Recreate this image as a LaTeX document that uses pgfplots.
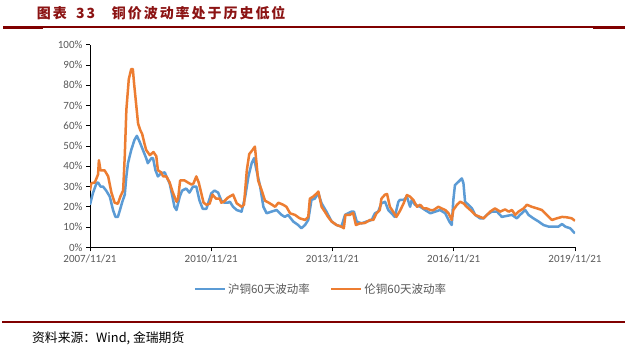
\documentclass[border=0pt]{standalone}
\usepackage{pgfplots}
\pgfplotsset{compat=1.18}
\usepackage{pgfplotstable}
\usepackage{fontspec}
\setmainfont{Carlito}
\newfontfamily\cjk{Noto Sans CJK SC}
\newfontfamily\cjktitle{Noto Sans CJK SC}[LetterSpace=14]
\definecolor{sblue}{RGB}{91,155,213}
\definecolor{sorange}{RGB}{237,125,49}
\definecolor{dred}{RGB}{128,0,0}
\definecolor{tred}{RGB}{140,20,20}
\definecolor{tgray}{RGB}{89,89,89}

\pgfplotstableread{
t v
0.00 21
0.07 26.6
0.16 31.6
0.20 32
0.26 30
0.32 30
0.40 28
0.49 25
0.57 18.4
0.63 15
0.69 15
0.75 19
0.80 22.5
0.86 26
0.90 35
0.94 41.5
1.02 48
1.10 53
1.16 55
1.23 52
1.31 48
1.39 44
1.43 41.5
1.52 44
1.56 44
1.62 38
1.68 35
1.76 36.5
1.85 37
1.89 35
1.97 31.6
2.04 25
2.09 20
2.14 18.4
2.22 25
2.28 28
2.38 29
2.46 27
2.55 30
2.63 30
2.71 23
2.79 19
2.88 19
2.96 24
3.00 26.6
3.08 28
3.17 27
3.25 23
3.33 22
3.41 22
3.46 22.5
3.54 20
3.63 18.4
3.75 17.6
3.84 25
3.92 35
4.00 41.5
4.06 44
4.12 38
4.21 30
4.29 20
4.37 16.8
4.49 17.6
4.62 18.4
4.74 16
4.82 15
4.90 16
5.03 12.7
5.15 11
5.23 9.4
5.32 11
5.40 13.5
5.48 23.4
5.56 24
5.65 26.6
5.73 21.7
5.85 17.6
5.98 12.7
6.10 11
6.22 10.2
6.31 16
6.47 17.6
6.53 17.6
6.60 12.7
6.72 11.8
6.84 12.7
6.97 13.5
7.05 16.8
7.13 17.6
7.21 21.7
7.30 22.5
7.38 18.4
7.46 16.8
7.54 15
7.63 22.5
7.67 23.4
7.76 23.4
7.84 25
7.92 20
7.96 23.4
8.04 21
8.17 20
8.29 18.4
8.42 16.8
8.54 17.6
8.66 18.4
8.79 16.8
8.89 12.7
8.95 11
8.99 23.4
9.03 30.7
9.12 32.4
9.20 34
9.24 31.6
9.28 22.5
9.36 21
9.45 19.2
9.53 16
9.65 14.3
9.74 14.3
9.82 16
9.94 17.6
10.07 17.6
10.19 15
10.31 15.5
10.44 16
10.56 14.3
10.64 16
10.77 18.4
10.85 16
10.97 14.3
11.10 12.7
11.22 11
11.35 10.2
11.47 10.2
11.59 10.2
11.68 11.5
11.76 10.2
11.88 9.4
11.96 7.7
12.00 6.9
}\hutong

\pgfplotstableread{
t v
0.00 28
0.03 31.6
0.12 32
0.20 36
0.22 43
0.26 38
0.36 38
0.45 35
0.53 27
0.61 22
0.69 21.5
0.75 25
0.82 28
0.86 45
0.90 68
0.96 83
1.02 88
1.06 88
1.09 81
1.15 69
1.19 61
1.24 58
1.29 56
1.35 51
1.39 48
1.48 45.5
1.57 47
1.64 45
1.68 38
1.76 37
1.81 35
1.89 35
1.97 32
2.05 27
2.14 22.5
2.18 24
2.23 33
2.34 33
2.42 32
2.51 31
2.56 31.5
2.63 35
2.69 32
2.75 27
2.81 22
2.88 21
2.96 21.5
3.03 26
3.12 24
3.21 24
3.25 22
3.31 22.5
3.41 24.5
3.54 26
3.63 21.7
3.75 20
3.81 21
3.88 38
3.94 46
4.02 48
4.08 49.7
4.12 41.5
4.16 33
4.25 28
4.33 23
4.45 21.7
4.58 20
4.66 22
4.78 21
4.86 20
4.95 16.8
5.07 16
5.19 14.3
5.32 13.5
5.40 15
5.44 24
5.52 25
5.61 26.6
5.65 27.5
5.73 20
5.81 17.6
5.89 15
5.98 12.7
6.10 11
6.22 10.2
6.28 9.4
6.32 16
6.43 16
6.51 17
6.58 11
6.68 11.8
6.80 12
6.93 13.5
7.01 13.5
7.09 16.8
7.17 18.4
7.21 24
7.30 26
7.35 26.3
7.42 20
7.50 17.6
7.58 15
7.67 18
7.76 21.7
7.84 25.8
7.92 25
8.00 23.4
8.09 20
8.17 21
8.25 19.2
8.33 19.2
8.42 18.4
8.50 18.4
8.62 20
8.70 19.2
8.79 18.4
8.87 16.8
8.95 13.5
8.99 18.4
9.08 21
9.16 22.5
9.24 21.7
9.32 20
9.41 18.4
9.53 16
9.65 15
9.74 14.3
9.82 16
9.90 17.6
10.02 19.2
10.15 17.6
10.27 18.7
10.36 17.6
10.44 18.4
10.52 16
10.60 17.6
10.73 19.2
10.81 21
10.93 20
11.06 19.2
11.18 18.4
11.30 16
11.43 13.5
11.55 14.3
11.68 15
11.80 14.8
11.92 14.3
12.00 13.1
}\luntong

\begin{document}
\begin{tikzpicture}[x=1pt,y=1pt]
\path[use as bounding box, fill=white] (0,0) rectangle (625,351);
% title
\node[anchor=west, inner sep=0, text=tred] at (36.7,337.5) {\cjktitle\bfseries\fontsize{14}{14}\selectfont 图表};
\node[anchor=west, inner sep=0, text=tred] at (76,337.5) {\cjktitle\bfseries\fontsize{14}{14}\selectfont 33};
\node[anchor=west, inner sep=0, text=tred] at (111.7,337.5) {\cjktitle\bfseries\fontsize{14}{14}\selectfont 铜价波动率处于历史低位};
\fill[dred] (3,322.7) rectangle (625,325);
\fill[dred] (3,322) rectangle (43,325);
\fill[dred] (593,322) rectangle (625,325);
% footer
\fill[dred] (2,27.7) rectangle (625,29.5);
\node[anchor=west, inner sep=0] at (32,13) {\cjk\fontsize{12.8}{12.8}\selectfont 资料来源：Wind, 金瑞期货};

\begin{axis}[
  at={(90pt,103.7pt)}, anchor=south west,
  scale only axis, width=485pt, height=202.6pt,
  xmin=0, xmax=12, ymin=0, ymax=100,
  axis lines*=left,
  axis line style={black, line width=0.8pt},
  tick style={black, line width=0.8pt},
  tick align=outside, major tick length=4pt,
  xtick={0,3,6,9,12},
  xticklabels={2007/11/21,2010/11/21,2013/11/21,2016/11/21,2019/11/21},
  ytick={0,10,...,100},
  yticklabel={\pgfmathprintnumber{\tick}\%},
  /pgf/number format/assume math mode=true,
  ticklabel style={text=tgray, font=\fontsize{11}{11}\selectfont},
  legend columns=2,
  legend style={draw=none, fill=none, at={(0.476,-0.206)}, anchor=center,
    font=\cjk\fontsize{11.5}{11.5}\selectfont, text=tgray,
    /tikz/every even column/.append style={column sep=18pt}},
  legend cell align=left,
  legend image code/.code={\draw[#1, line width=2.6pt] (0pt,0pt) -- (30pt,0pt);},
]
\addplot[sblue, line width=2.5pt, line join=round] table[x=t,y=v] {\hutong};
\addlegendentry{沪铜60天波动率}
\addplot[sorange, line width=2.5pt, line join=round] table[x=t,y=v] {\luntong};
\addlegendentry{伦铜60天波动率}
\end{axis}
\end{tikzpicture}
\end{document}
